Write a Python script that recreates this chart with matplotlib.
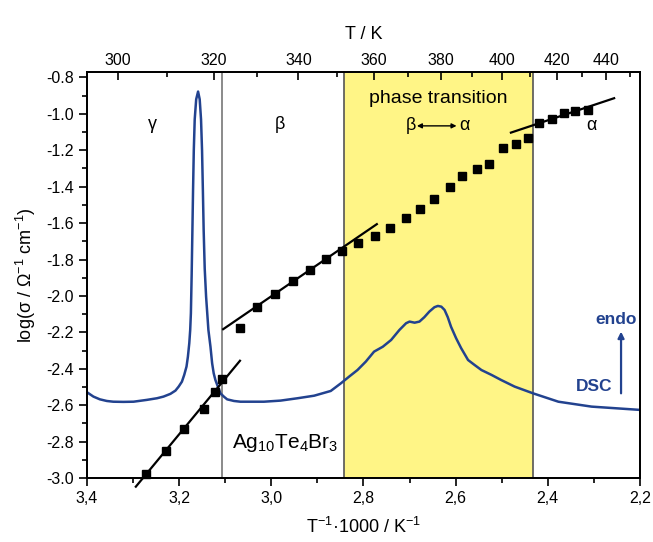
import numpy as np
import matplotlib
matplotlib.use("Agg")
import matplotlib.pyplot as plt
from matplotlib.ticker import MultipleLocator, FixedLocator, FuncFormatter

plt.rcParams['font.family'] = ['Liberation Sans', 'DejaVu Sans']
plt.rcParams['mathtext.fontset'] = 'custom'
plt.rcParams['mathtext.rm'] = 'Liberation Sans'
plt.rcParams['mathtext.it'] = 'Liberation Sans:italic'

# ---- conductivity data (x = 1000/T, y = log sigma) ----
gamma_x = [3.272, 3.228, 3.189, 3.145, 3.123, 3.106]
gamma_y = [-2.980, -2.850, -2.732, -2.621, -2.529, -2.456]

beta_alpha_x = [3.067, 3.030, 2.991, 2.952, 2.916, 2.881, 2.846, 2.811, 2.775, 2.742,
                2.708, 2.677, 2.646, 2.613, 2.586, 2.554, 2.528, 2.498, 2.470, 2.443,
                2.418, 2.391, 2.365, 2.340, 2.313]
beta_alpha_y = [-2.178, -2.059, -1.991, -1.916, -1.857, -1.798, -1.751, -1.707, -1.670, -1.628,
                -1.571, -1.525, -1.469, -1.403, -1.339, -1.304, -1.276, -1.189, -1.167, -1.134,
                -1.051, -1.029, -0.993, -0.984, -0.978]

# ---- linear fits: (slope, intercept, x_start, x_end) ----
fit_gamma = (-3.06, 7.032, 3.294, 3.068)
fit_beta = (-1.73, 3.188, 3.1045, 2.771)
fit_alpha = (-0.844, 0.990, 2.480, 2.256)

# ---- DSC trace (arbitrary units, drawn in same axes) ----
dsc_x = [3.400, 3.386, 3.372, 3.357, 3.343, 3.321, 3.299, 3.270, 3.248, 3.234,
         3.219, 3.208, 3.201, 3.194, 3.189, 3.184, 3.181, 3.178, 3.176, 3.1745,
         3.1728, 3.1712, 3.1698, 3.1682, 3.1662, 3.163, 3.1589, 3.1554, 3.1525, 3.1503,
         3.1485, 3.1468, 3.1445, 3.1415, 3.1365, 3.132, 3.1284, 3.125, 3.1213, 3.116,
         3.1104, 3.103, 3.0958, 3.081, 3.067, 3.016, 2.980, 2.943, 2.907, 2.871,
         2.849, 2.831, 2.813, 2.795, 2.777, 2.758, 2.740, 2.722, 2.7075, 2.700,
         2.689, 2.6785, 2.668, 2.657, 2.646, 2.6385, 2.631, 2.624, 2.617, 2.610,
         2.599, 2.588, 2.573, 2.559, 2.544, 2.522, 2.501, 2.472, 2.432, 2.377,
         2.305, 2.200]
dsc_y = [-2.529, -2.553, -2.568, -2.577, -2.581, -2.582, -2.581, -2.571, -2.562, -2.553,
         -2.538, -2.520, -2.498, -2.471, -2.434, -2.388, -2.334, -2.260, -2.187, -2.095,
         -1.880, -1.637, -1.418, -1.200, -1.030, -0.920, -0.8775, -0.920, -1.030, -1.200,
         -1.418, -1.637, -1.850, -2.004, -2.187, -2.279, -2.370, -2.425, -2.462, -2.498,
         -2.535, -2.553, -2.568, -2.577, -2.581, -2.581, -2.575, -2.562, -2.548, -2.522,
         -2.480, -2.443, -2.407, -2.361, -2.306, -2.279, -2.242, -2.187, -2.150, -2.141,
         -2.147, -2.141, -2.117, -2.086, -2.062, -2.055, -2.059, -2.077, -2.117, -2.169,
         -2.232, -2.287, -2.352, -2.379, -2.407, -2.434, -2.462, -2.498, -2.535, -2.581,
         -2.608, -2.626]

# ---- phase boundaries ----
gamma_beta_boundary = 3.106
transition_start = 2.8425
transition_end = 2.432

top_major_T = [300, 320, 340, 360, 380, 400, 420, 440]
top_minor_T = [310, 330, 350, 370, 390, 410, 430, 450]

blue = '#22428f'

fig = plt.figure(figsize=(6.53, 5.42), dpi=100)
ax = fig.add_axes([0.1332, 0.1181, 0.8468, 0.7491])

ax.set_xlim(3.4, 2.2)
ax.set_ylim(-3.0, -0.77)

ax.axvspan(transition_start, transition_end, color='#fff586', zorder=0, lw=0)
for xv in (transition_start, transition_end):
    ax.axvline(xv, color='#555555', lw=1.2, zorder=1)
ax.axvline(gamma_beta_boundary, color='#777777', lw=1.2, zorder=1)

ax.plot(dsc_x, dsc_y, color=blue, lw=1.8, zorder=2, solid_joinstyle='round')

for s, b, x0, x1 in (fit_gamma, fit_beta, fit_alpha):
    xs = np.array([x0, x1])
    ax.plot(xs, s * xs + b, color='black', lw=1.6, zorder=3, clip_on=False)

ax.plot(gamma_x, gamma_y, 's', color='black', ms=5.6, zorder=4, clip_on=False)
ax.plot(beta_alpha_x, beta_alpha_y, 's', color='black', ms=5.6, zorder=4)

# ticks
ax.xaxis.set_major_locator(MultipleLocator(0.2))
ax.xaxis.set_minor_locator(MultipleLocator(0.1))
ax.xaxis.set_major_formatter(FuncFormatter(lambda v, p: f"{v:.1f}".replace('.', ',')))
ax.yaxis.set_major_locator(MultipleLocator(0.2))
ax.yaxis.set_minor_locator(MultipleLocator(0.1))
ax.yaxis.set_major_formatter(FuncFormatter(lambda v, p: f"{v:.1f}"))
ax.tick_params(axis='both', which='major', direction='out', length=6, width=1.2, labelsize=11.5)
ax.tick_params(axis='both', which='minor', direction='out', length=3.5, width=1.2)
ax.tick_params(top=False, right=False, which='both')
for sp in ax.spines.values():
    sp.set_linewidth(1.3)

ax.set_xlabel("T$^{-1}$·1000 / K$^{-1}$", fontsize=13, labelpad=8)
ax.set_ylabel("log(σ / Ω$^{-1}$ cm$^{-1}$)", fontsize=13, labelpad=6)

# top axis in Kelvin
top = ax.twiny()
top.set_xlim(ax.get_xlim())
top.xaxis.set_major_locator(FixedLocator([1000.0 / t for t in top_major_T]))
top.xaxis.set_minor_locator(FixedLocator([1000.0 / t for t in top_minor_T]))
top.set_xticklabels([str(t) for t in top_major_T])
top.tick_params(axis='x', which='major', direction='in', length=6, width=1.2, labelsize=11.5, pad=3)
top.tick_params(axis='x', which='minor', direction='in', length=3.5, width=1.2)
top.set_xlabel("T / K", fontsize=13, labelpad=10)
for sp in top.spines.values():
    sp.set_linewidth(1.3)

# annotations
ax.text(3.258, -1.06, "γ", fontsize=13, ha='center', va='center')
ax.text(2.981, -1.06, "β", fontsize=13, ha='center', va='center')
ax.text(2.638, -0.914, "phase transition", fontsize=14, ha='center', va='center')
ax.text(2.698, -1.066, "β", fontsize=13, ha='center', va='center')
ax.text(2.581, -1.066, "α", fontsize=13, ha='center', va='center')
ax.annotate("", xy=(2.598, -1.066), xytext=(2.684, -1.066),
            arrowprops=dict(arrowstyle='<|-|>', color='black', lw=1.0,
                            mutation_scale=7, shrinkA=0, shrinkB=0))
ax.text(2.305, -1.066, "α", fontsize=13, ha='center', va='center')
ax.text(2.971, -2.81, "Ag$_{10}$Te$_{4}$Br$_{3}$", fontsize=15, ha='center', va='center')
ax.text(2.252, -2.128, "endo", fontsize=12.5, ha='center', va='center',
        color=blue, fontweight='bold')
ax.text(2.299, -2.498, "DSC", fontsize=12.5, ha='center', va='center',
        color=blue, fontweight='bold')
ax.annotate("", xy=(2.241, -2.196), xytext=(2.241, -2.535),
            arrowprops=dict(arrowstyle='-|>', color=blue, lw=1.6,
                            mutation_scale=9, shrinkA=0, shrinkB=0))

fig.savefig("out.png", dpi=100)
